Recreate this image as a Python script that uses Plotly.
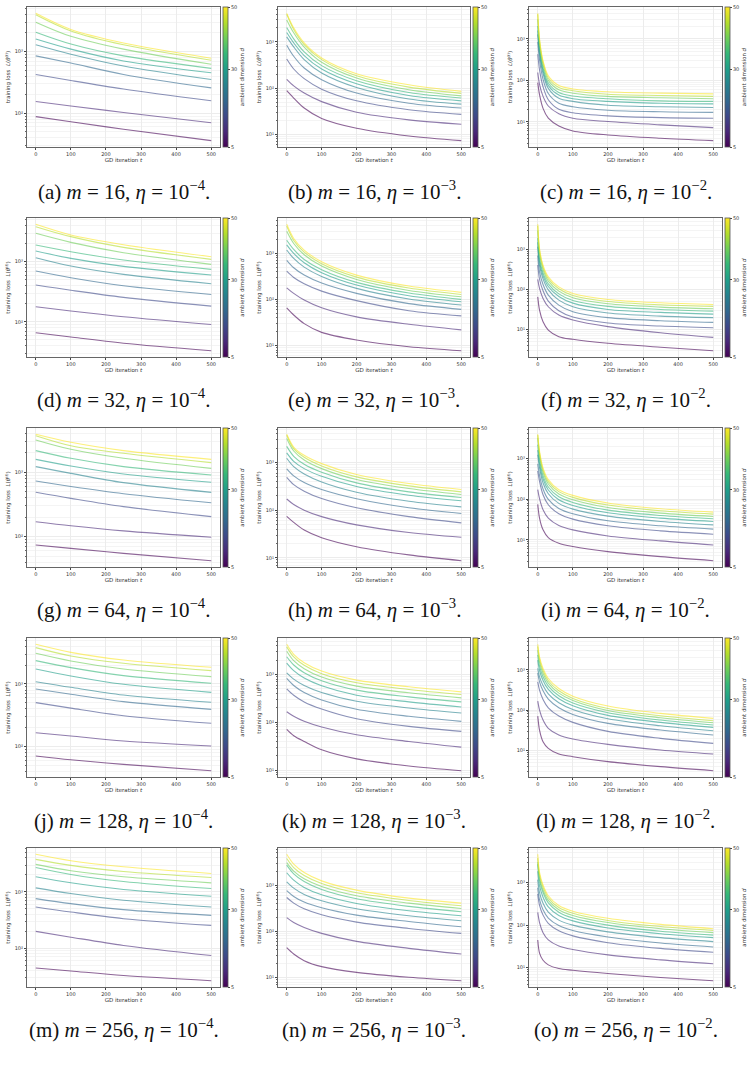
import math
import plotly.graph_objects as go
from plotly.colors import sample_colorscale

# ---------------- data ----------------
dims = [50, 45, 40, 35, 30, 25, 20, 15, 10, 5]          # ambient dimension d (row order of every loss table)
m_values = [16, 32, 64, 128, 256]                        # rows of the grid
eta_exponents = [-4, -3, -2]                             # columns of the grid
panel_letters = list("abcdefghijklmno")

t_eta4 = [0, 100, 250, 500]
t_eta3 = [0, 20, 50, 100, 200, 350, 500]
t_eta2 = [0, 5, 15, 30, 60, 100, 200, 350, 500]
x_ticks = [0, 100, 200, 300, 400, 500]
cbar_ticks = [5, 30, 50]

# m = 16
loss_a = [[4140, 2265, 1371, 778], [3945, 2153, 1285, 721], [2985, 1762, 1092, 620],
          [2046, 1318, 849, 533], [1592, 1092, 703, 453], [1285, 904, 582, 351],
          [849, 650, 425, 257], [425, 339, 247, 159], [155, 131, 103, 70], [88, 73, 55, 36]]
loss_b = [[4140, 2014, 951, 449, 205, 118, 85], [3945, 1854, 875, 413, 185, 105, 77],
          [2985, 1570, 766, 361, 165, 92, 68], [2046, 1161, 607, 306, 144, 80, 61],
          [1592, 951, 505, 259, 124, 69, 53], [1285, 778, 413, 212, 103, 58, 45],
          [849, 488, 272, 152, 78, 47, 37], [425, 259, 160, 95, 53, 34, 27],
          [155, 112, 78, 51, 30, 20.5, 16.5], [88, 61, 37, 22, 13.5, 9.2, 7.3]]
loss_c = [[4140, 1009, 297, 128, 75, 62, 53, 49, 47], [3945, 919, 271, 114, 67, 56, 46, 43, 41],
          [2985, 791, 238, 100, 59, 49, 41, 38, 36], [2046, 631, 200, 86, 51, 42, 36, 32, 31],
          [1592, 523, 173, 75, 44, 36, 31, 28, 27], [1285, 433, 146, 64, 37, 31, 25, 23, 22],
          [849, 309, 106, 48, 28, 23, 19, 17.4, 16.8], [425, 179, 70, 34, 20, 16.5, 13.9, 12.6, 12.2],
          [155, 80, 41, 24, 15.6, 12.2, 10.1, 8.4, 7.2], [88, 45, 21, 12.2, 7.9, 6.0, 4.8, 4.0, 3.5]]
# m = 32
loss_d = [[4190, 2782, 1920, 1211], [3830, 2612, 1733, 1094], [2965, 2100, 1413, 903],
          [1896, 1468, 1066, 745], [1506, 1136, 836, 600], [1166, 847, 615, 430],
          [699, 541, 398, 285], [408, 334, 255, 182], [178, 151, 121, 90], [65.6, 55.6, 44, 33]]
loss_e = [[4190, 2075, 1161, 650, 335, 194, 142], [3830, 1876, 1052, 589, 303, 176, 128],
          [2965, 1617, 920, 524, 270, 156, 114], [1896, 1199, 730, 437, 233, 137, 100],
          [1506, 984, 618, 376, 204, 120, 89], [1166, 767, 499, 313, 173, 102, 75.5],
          [699, 482, 335, 225, 135, 81, 61], [408, 298, 218, 151, 94, 57, 44],
          [178, 135, 97, 66, 42, 29, 22], [65.6, 46, 30, 19.4, 13.3, 9.5, 7.8]]
loss_f = [[4190, 1040, 401, 206, 116, 79.6, 56.5, 46.7, 42.5], [3830, 927, 358, 184, 104, 71, 50.4, 41.7, 37.9],
          [2965, 781, 313, 161, 91, 62, 44, 36.5, 33.2], [1896, 587, 259, 138, 78, 53.4, 37.9, 31.9, 29],
          [1506, 485, 222, 119, 67, 45.8, 31.9, 26.9, 24.4], [1166, 394, 184, 98, 54.4, 37.2, 25.9, 21.8, 19.9],
          [699, 274, 133, 72.4, 40.9, 27.9, 19.9, 16.7, 15.2], [408, 180, 92.7, 51.4, 29.6, 20.6, 14.6, 12.3, 11.2],
          [178, 106, 59.8, 37.2, 23.1, 17.4, 11.9, 8.4, 6.45], [65.6, 30.7, 15.8, 9.8, 6.7, 5.75, 4.58, 3.65, 3.0]]
# m = 64
loss_g = [[3896, 2926, 2172, 1592], [3715, 2596, 1974, 1413], [3184, 2277, 1650, 1153],
          [2172, 1650, 1225, 908], [1592, 1253, 942, 700], [1225, 964, 691, 489],
          [733, 603, 466, 337], [489, 394, 293, 205], [171, 148, 123, 98], [74.2, 65.9, 55.1, 42.4]]
loss_h = [[3896, 2109, 1413, 946, 557, 361, 270], [3715, 1946, 1282, 845, 498, 323, 242],
          [3184, 1740, 1128, 743, 438, 284, 213], [2172, 1346, 916, 623, 373, 242, 184],
          [1592, 1057, 743, 514, 313, 206, 157], [1225, 818, 575, 391, 238, 154, 117],
          [733, 522, 379, 270, 173, 112, 85], [489, 344, 250, 175, 112, 73, 54],
          [171, 131, 100, 73, 49, 34, 27], [74.2, 55.3, 38.2, 26.4, 17.1, 11.5, 8.7]]
loss_i = [[3896, 1503, 582, 300, 170, 123, 79.7, 57.7, 47.8], [3715, 1367, 520, 268, 152, 110, 71.1, 51.5, 42.6],
          [3184, 1197, 455, 235, 133, 96.3, 62.3, 45.1, 37.3], [2172, 936, 377, 198, 114, 82.7, 53.5, 39.5, 32.7],
          [1592, 745, 312, 167, 96.3, 69.8, 46, 34, 28.1], [1225, 582, 248, 135, 78.2, 56.6, 38, 28.1, 23.2],
          [733, 384, 177, 98, 58.9, 43.5, 29.2, 22, 18.2], [489, 273, 128, 72.4, 43.5, 32.1, 22, 16.5, 13.7],
          [171, 102, 54.5, 34, 22.4, 17.5, 12.4, 9.4, 7.45], [74.2, 34, 17.5, 11.3, 8.2, 6.8, 5.1, 3.84, 3.06]]
# m = 128
loss_j = [[4295, 3199, 2415, 1845], [3802, 2799, 2138, 1633], [3085, 2328, 1735, 1309],
          [2357, 1823, 1359, 1025], [1735, 1343, 988, 736], [1089, 885, 667, 510],
          [832, 684, 523, 394], [504, 412, 312, 236], [167, 148, 123, 102.5], [71, 61.7, 52.2, 41.4]]
loss_k = [[4295, 2660, 1775, 1186, 766, 555, 435], [3802, 2335, 1560, 1042, 673, 488, 382],
          [3085, 1955, 1327, 886, 573, 415, 325], [2357, 1585, 1094, 741, 472, 341, 268],
          [1735, 1205, 844, 582, 370, 268, 210], [1089, 804, 591, 422, 277, 200, 157],
          [832, 591, 422, 295, 188, 134, 105], [504, 370, 268, 191, 119, 82.4, 64.7],
          [167, 134, 105, 79.8, 55, 39.8, 30.3], [71, 52.4, 39.8, 26.6, 17.2, 12.2, 9.75]]
loss_l = [[4295, 2100, 1079, 610, 344, 222, 126, 82.7, 62.1], [3802, 1837, 944, 534, 301, 195, 110, 72.4, 54.4],
          [3085, 1549, 811, 467, 264, 174, 98, 64.6, 48.5], [2357, 1233, 670, 394, 227, 149, 85.9, 56.5, 42.5],
          [1735, 962, 544, 325, 191, 128, 73.8, 49.5, 37.2], [1089, 670, 409, 254, 152, 104, 61, 40.9, 30.7],
          [832, 504, 301, 187, 114, 78.1, 46.7, 31.9, 24], [504, 313, 184, 114, 71, 49.5, 29.6, 19.9, 14.9],
          [167, 100, 56.5, 35.1, 24, 19.1, 14.1, 10.2, 8.1], [71, 31.9, 16.4, 11.2, 8.1, 6.97, 5.24, 3.94, 3.13]]
# m = 256
loss_m = [[4645, 3573, 2793, 2125], [3776, 2951, 2307, 1803], [3076, 2371, 1854, 1448],
          [2718, 2039, 1528, 1146], [1854, 1448, 1101, 837], [1178, 933, 710, 540],
          [760, 619, 484, 383], [540, 439, 334, 254], [199, 157, 112, 74], [44.6, 39.4, 32.7, 26.5]]
loss_n = [[4645, 2838, 1876, 1239, 780, 524, 409], [3776, 2404, 1617, 1086, 683, 467, 358],
          [3076, 2005, 1371, 936, 589, 409, 313], [2718, 1758, 1199, 805, 507, 347, 266],
          [1854, 1282, 891, 618, 402, 279, 218], [1178, 861, 629, 459, 308, 218, 170],
          [760, 569, 430, 324, 225, 164, 126], [540, 409, 308, 229, 159, 116, 90.6],
          [199, 156, 122, 90.6, 60.8, 43, 32.4], [44.6, 32.4, 23.3, 17.3, 13, 10.2, 8.6]]
loss_o = [[4645, 1741, 881, 492, 291, 213, 145, 104, 82.4], [3776, 1518, 785, 438, 259, 190, 129, 92.5, 74.7],
          [3076, 1300, 671, 382, 231, 169, 115, 82.4, 66.5], [2718, 1135, 586, 334, 201, 147, 100, 71.9, 58.1],
          [1854, 848, 455, 269, 169, 126, 85.6, 62.7, 50.7], [1178, 586, 327, 201, 131, 100, 69.2, 50.7, 40.9],
          [760, 397, 231, 147, 98, 74.7, 52.7, 37.8, 30.6], [540, 291, 172, 110, 73.3, 55.8, 38.6, 28.3, 22.9],
          [199, 115, 66.5, 45.1, 32.4, 26.7, 19.9, 15.2, 12.3], [44.6, 22, 14.9, 11.6, 9.5, 8.65, 7.26, 5.86, 4.92]]

panels = [loss_a, loss_b, loss_c, loss_d, loss_e, loss_f, loss_g, loss_h, loss_i,
          loss_j, loss_k, loss_l, loss_m, loss_n, loss_o]
t_by_col = [t_eta4, t_eta3, t_eta2]

# ---------------- layout geometry (pixels) ----------------
W, H = 751, 1065
col_x = [(27, 220), (278, 470), (529, 722)]
row_y = [(7, 147), (218, 357), (428, 567), (638, 777), (848, 987)]
caption_y = [190, 398, 608, 819, 1028]


def fx(px):
    return px / W


def fy(py):
    return 1 - py / H


sup = {"0": "\u2070", "1": "\u00b9", "2": "\u00b2", "3": "\u00b3", "4": "\u2074"}
major_vals = [1, 10, 100, 1000, 10000]
major_text = ["10" + sup[str(k)] for k in range(5)]
minor_vals = [k * 10 ** e for e in range(0, 5) for k in range(2, 10)]

colors = sample_colorscale("Viridis", [(d - 5) / 45 for d in dims])

fig = go.Figure()
tick_font = dict(family="DejaVu Sans", size=5, color="#333")
title_font = dict(family="DejaVu Sans", size=5.5, color="#333")

for idx, data in enumerate(panels):
    r, c = divmod(idx, 3)
    t = t_by_col[c]
    ax = "" if idx == 0 else str(idx + 1)
    xa, ya = "x" + ax, "y" + ax
    for k in range(len(dims) - 1, -1, -1):
        fig.add_trace(go.Scatter(
            x=t, y=data[k], mode="lines", xaxis=xa, yaxis=ya,
            line=dict(color=colors[k], width=1.1, shape="spline", smoothing=0.9),
            opacity=0.6, showlegend=False, hoverinfo="skip"))
    x0, x1 = col_x[c]
    y0, y1 = row_y[r]
    fig.add_trace(go.Scatter(
        x=[250, 250], y=[data[0][-1], data[0][-1]], mode="markers", xaxis=xa, yaxis=ya,
        marker=dict(size=0.1, opacity=0, color=[5, 50], cmin=5, cmax=50, colorscale="Viridis",
                    showscale=True,
                    colorbar=dict(x=fx(x1 + 3), xanchor="left", y=fy((y0 + y1) / 2), yanchor="middle",
                                  len=(y1 - y0) / H, lenmode="fraction", thickness=5, thicknessmode="pixels",
                                  xpad=0, ypad=0, outlinewidth=0.8, outlinecolor="#555",
                                  tickvals=cbar_ticks, ticks="outside", ticklen=2, tickwidth=0.6,
                                  tickcolor="#444", tickfont=tick_font,
                                  title=dict(text="ambient dimension <i>d</i>", side="right",
                                             font=title_font))),
        showlegend=False, hoverinfo="skip"))

    allv = [v for row in data for v in row]
    lo, hi = math.log10(min(allv)), math.log10(max(allv))
    pad = 0.05 * (hi - lo)
    fig.layout["xaxis" + ax] = dict(
        domain=[fx(x0), fx(x1)], anchor=ya, range=[-25, 525], tickvals=x_ticks,
        ticks="outside", ticklen=2, tickwidth=0.6, tickcolor="#444", tickfont=tick_font,
        showline=True, mirror=True, linecolor="#666", linewidth=1,
        showgrid=True, gridcolor="#ececec", gridwidth=0.6, zeroline=False,
        title=dict(text="GD iteration <i>t</i>", font=title_font, standoff=1))
    fig.layout["yaxis" + ax] = dict(
        domain=[fy(y1), fy(y0)], anchor=xa, type="log", range=[lo - pad, hi + pad],
        tickmode="array", tickvals=major_vals, ticktext=major_text,
        ticks="outside", ticklen=2, tickwidth=0.6, tickcolor="#444", tickfont=tick_font,
        minor=dict(tickmode="array", tickvals=minor_vals, showgrid=True, gridcolor="#f4f4f4",
                   gridwidth=0.5, ticks="outside", ticklen=1, tickcolor="#666"),
        showline=True, mirror=True, linecolor="#666", linewidth=1,
        showgrid=True, gridcolor="#ececec", gridwidth=0.6, zeroline=False,
        title=dict(text="training loss  <i>L</i>(<i>θ</i><sup>(<i>t</i>)</sup>)", font=title_font, standoff=3))

    fig.add_annotation(
        x=fx((x0 + x1) / 2), y=fy(caption_y[r]), xref="paper", yref="paper",
        xanchor="center", yanchor="middle", showarrow=False,
        text="(%s) <i>m</i> = %d, <i>η</i> = 10<sup>−%d</sup>." % (panel_letters[idx], m_values[r], -eta_exponents[c]),
        font=dict(family="Liberation Serif", size=21, color="#111"))

fig.update_layout(width=W, height=H, margin=dict(l=0, r=0, t=0, b=0),
                  paper_bgcolor="white", plot_bgcolor="white", showlegend=False)

fig.write_html("out.html")
